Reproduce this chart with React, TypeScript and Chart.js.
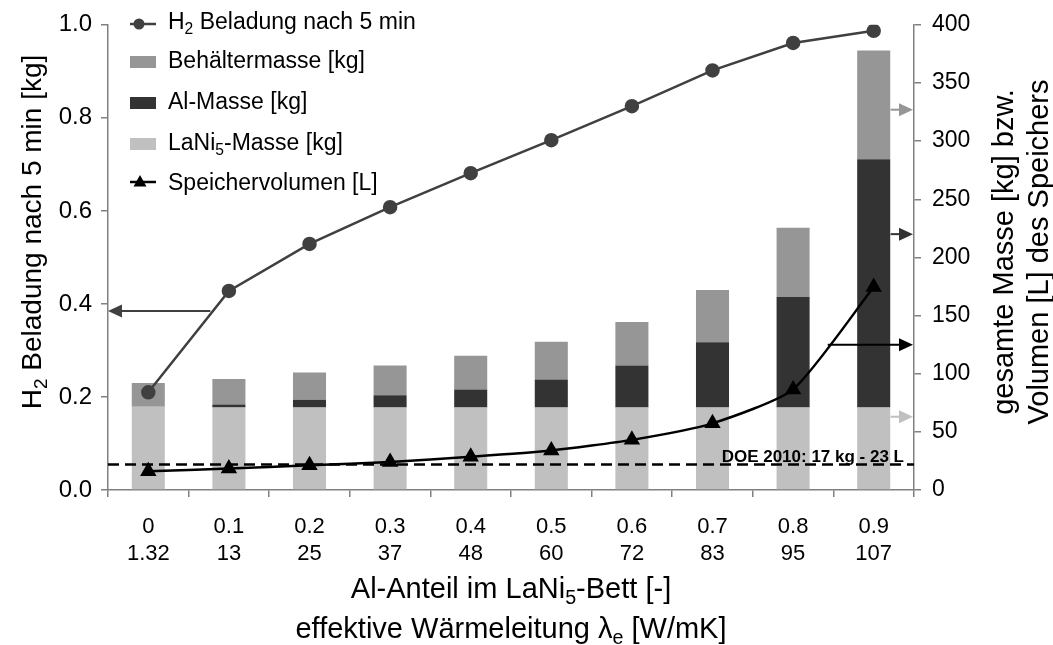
import React, { useEffect, useRef } from 'react';
import { Chart, registerables } from 'chart.js';

Chart.register(...registerables);

const FAMILY = '"Liberation Sans", Arial, Helvetica, sans-serif';

// ---- data ----
const alFraction = ['0', '0.1', '0.2', '0.3', '0.4', '0.5', '0.6', '0.7', '0.8', '0.9'];
const lambdaE = ['1.32', '13', '25', '37', '48', '60', '72', '83', '95', '107'];
const h2Loading = [0.21, 0.428, 0.529, 0.608, 0.681, 0.752, 0.825, 0.902, 0.961, 0.987];
const lani5Mass = [71.5, 71, 71, 71, 71, 71, 71, 71, 71, 71];
const alMass = [0, 2.5, 6.5, 10.5, 15.5, 24, 36, 56, 95, 213.5];
const vesselMass = [20.5, 22, 23.5, 25.5, 29, 32.5, 37.5, 45, 59.5, 93.5];
const storageVolume = [16.2, 18.4, 21.3, 24.1, 28.6, 34, 43.1, 57.3, 86.5, 174.5];
const leftTickStep = 0.2;
const rightTickStep = 50;
const DOE_VALUE = 22;
const DOE_LABEL = 'DOE 2010: 17 kg - 23 L';

const C_VESSEL = '#969696';
const C_AL = '#333333';
const C_LANI5 = '#c0c0c0';
const C_H2 = '#404040';
const C_VOL = '#000000';
const C_AXIS = '#808080';

// annotation arrows: value on axis, start position (category index), colour
const leftArrow = { value: 0.385, fromIndex: 0.77, color: C_H2 };
const rightArrows = [
  { value: 327, fromIndex: 9.21, color: C_VESSEL },
  { value: 220, fromIndex: 9.21, color: C_AL },
  { value: 125, fromIndex: 8.43, color: C_VOL },
  { value: 63, fromIndex: 9.21, color: C_LANI5 },
];

type Part = { t: string; sub?: boolean };

function drawRich(ctx: CanvasRenderingContext2D, parts: Part[], x: number, y: number, size: number, align: 'left' | 'center', weight = '') {
  const sub = size * 0.68;
  const fontOf = (s: number) => `${weight} ${s}px ${FAMILY}`;
  const widths = parts.map((p) => {
    ctx.font = fontOf(p.sub ? sub : size);
    return ctx.measureText(p.t).width;
  });
  const total = widths.reduce((a, b) => a + b, 0);
  let cx = align === 'center' ? x - total / 2 : x;
  ctx.textAlign = 'left';
  ctx.textBaseline = 'alphabetic';
  parts.forEach((p, i) => {
    ctx.font = fontOf(p.sub ? sub : size);
    ctx.fillText(p.t, cx, p.sub ? y + size * 0.2 : y);
    cx += widths[i];
  });
}

function arrow(ctx: CanvasRenderingContext2D, x1: number, y: number, x2: number, color: string) {
  const dir = x2 > x1 ? 1 : -1;
  const head = 14;
  const half = 6.5;
  ctx.save();
  ctx.strokeStyle = color;
  ctx.fillStyle = color;
  ctx.lineWidth = 2;
  ctx.beginPath();
  ctx.moveTo(x1, y);
  ctx.lineTo(x2 - dir * head, y);
  ctx.stroke();
  ctx.beginPath();
  ctx.moveTo(x2, y);
  ctx.lineTo(x2 - dir * head, y - half);
  ctx.lineTo(x2 - dir * head, y + half);
  ctx.closePath();
  ctx.fill();
  ctx.restore();
}

const legendRows: { kind: 'h2' | 'box' | 'vol'; color: string; parts: Part[] }[] = [
  { kind: 'h2', color: C_H2, parts: [{ t: 'H' }, { t: '2', sub: true }, { t: ' Beladung nach 5 min' }] },
  { kind: 'box', color: C_VESSEL, parts: [{ t: 'Behältermasse [kg]' }] },
  { kind: 'box', color: C_AL, parts: [{ t: 'Al-Masse [kg]' }] },
  { kind: 'box', color: C_LANI5, parts: [{ t: 'LaNi' }, { t: '5', sub: true }, { t: '-Masse [kg]' }] },
  { kind: 'vol', color: C_VOL, parts: [{ t: 'Speichervolumen [L]' }] },
];

const overlayPlugin = {
  id: 'overlay',
  afterDatasetDraw(chart: any, args: any) {
    if (args.index !== 0) return;
    const { ctx, chartArea } = chart;
    const yy = chart.scales.y2.getPixelForValue(DOE_VALUE);
    ctx.save();
    ctx.strokeStyle = '#000';
    ctx.lineWidth = 2.5;
    ctx.setLineDash([11, 6]);
    ctx.beginPath();
    ctx.moveTo(chartArea.left, yy);
    ctx.lineTo(chartArea.right, yy);
    ctx.stroke();
    ctx.setLineDash([]);
    ctx.fillStyle = '#000';
    ctx.font = `bold 17px ${FAMILY}`;
    ctx.textAlign = 'right';
    ctx.textBaseline = 'alphabetic';
    ctx.fillText(DOE_LABEL, chartArea.right - 10, yy - 2);
    ctx.restore();
  },
  afterDatasetsDraw(chart: any) {
    const { ctx, chartArea, scales } = chart;
    arrow(ctx, scales.x.getPixelForValue(leftArrow.fromIndex), scales.y.getPixelForValue(leftArrow.value), chartArea.left, leftArrow.color);
    rightArrows.forEach((a) => {
      arrow(ctx, scales.x.getPixelForValue(a.fromIndex), scales.y2.getPixelForValue(a.value), chartArea.right - 1, a.color);
    });
  },
  afterDraw(chart: any) {
    const { ctx } = chart;
    ctx.save();
    ctx.fillStyle = '#000';
    // legend
    const lx = 130;
    const rowY = [21, 60, 101, 142, 182];
    legendRows.forEach((r, i) => {
      const cy = rowY[i];
      if (r.kind === 'box') {
        ctx.fillStyle = r.color;
        ctx.fillRect(lx, cy - 4, 26, 12);
      } else {
        ctx.strokeStyle = r.color;
        ctx.fillStyle = r.color;
        ctx.lineWidth = 2.5;
        const ly = r.kind === 'h2' ? cy + 3 : cy;
        ctx.beginPath();
        ctx.moveTo(lx, ly);
        ctx.lineTo(lx + 26, ly);
        ctx.stroke();
        ctx.beginPath();
        if (r.kind === 'h2') {
          ctx.arc(lx + 9, ly, 5.5, 0, Math.PI * 2);
        } else {
          ctx.moveTo(lx + 10, ly - 7);
          ctx.lineTo(lx + 16.5, ly + 4.5);
          ctx.lineTo(lx + 3.5, ly + 4.5);
          ctx.closePath();
        }
        ctx.fill();
      }
      ctx.fillStyle = '#000';
      drawRich(ctx, r.parts, 168, cy + 8, 23, 'left');
    });

    // left axis title
    ctx.save();
    ctx.translate(31, 232);
    ctx.rotate(-Math.PI / 2);
    drawRich(ctx, [{ t: 'H' }, { t: '2', sub: true }, { t: ' Beladung nach 5 min [kg]' }], 0, 10, 28, 'center');
    ctx.restore();

    // right axis title (two lines)
    ctx.save();
    ctx.translate(1002, 252);
    ctx.rotate(-Math.PI / 2);
    drawRich(ctx, [{ t: 'gesamte Masse [kg] bzw.' }], 0, 10.5, 29, 'center');
    ctx.restore();
    ctx.save();
    ctx.translate(1037, 252);
    ctx.rotate(-Math.PI / 2);
    drawRich(ctx, [{ t: 'Volumen [L] des Speichers' }], 0, 10.5, 29, 'center');
    ctx.restore();

    // x axis titles
    const cx = (chart.chartArea.left + chart.chartArea.right) / 2;
    drawRich(ctx, [{ t: 'Al-Anteil im LaNi' }, { t: '5', sub: true }, { t: '-Bett [-]' }], cx, 598, 29, 'center');
    drawRich(ctx, [{ t: 'effektive Wärmeleitung λ' }, { t: 'e', sub: true }, { t: ' [W/mK]' }], cx, 638, 29, 'center');
    ctx.restore();
  },
};

export default function App() {
  const ref = useRef<HTMLCanvasElement | null>(null);

  useEffect(() => {
    document.body.style.margin = '0';
    const canvas = ref.current;
    if (!canvas) return;
    Chart.defaults.font.family = FAMILY;
    const labels = alFraction.map((a, i) => [a, lambdaE[i]]);
    const chart = new Chart(canvas, {
      type: 'bar',
      data: {
        labels,
        datasets: [
          { type: 'bar', label: 'LaNi5-Masse [kg]', data: lani5Mass, backgroundColor: C_LANI5, yAxisID: 'y2', stack: 'mass', order: 1, barPercentage: 0.41, categoryPercentage: 1 } as any,
          { type: 'bar', label: 'Al-Masse [kg]', data: alMass, backgroundColor: C_AL, yAxisID: 'y2', stack: 'mass', order: 1, barPercentage: 0.41, categoryPercentage: 1 } as any,
          { type: 'bar', label: 'Behältermasse [kg]', data: vesselMass, backgroundColor: C_VESSEL, yAxisID: 'y2', stack: 'mass', order: 1, barPercentage: 0.41, categoryPercentage: 1 } as any,
          { type: 'line', label: 'Speichervolumen [L]', data: storageVolume, borderColor: C_VOL, backgroundColor: C_VOL, borderWidth: 2.5, tension: 0.2, pointStyle: 'triangle', pointRadius: 7, yAxisID: 'y2', stack: 'vol', order: 0 } as any,
          { type: 'line', label: 'H2 Beladung nach 5 min', data: h2Loading, borderColor: C_H2, backgroundColor: C_H2, borderWidth: 2.5, tension: 0, pointStyle: 'circle', pointRadius: 6, yAxisID: 'y', order: 0 } as any,
        ],
      },
      options: {
        responsive: false,
        maintainAspectRatio: false,
        animation: false,
        layout: { padding: { top: 20, left: 0, right: 0, bottom: 0 } },
        plugins: { legend: { display: false }, tooltip: { enabled: false } },
        scales: {
          x: {
            stacked: true,
            offset: true,
            grid: { display: true, drawOnChartArea: false, drawTicks: true, tickLength: 7, color: C_AXIS, lineWidth: 1.5, offset: true },
            border: { display: true, color: C_AXIS, width: 1.5 },
            ticks: { color: '#000', font: { size: 22, lineHeight: 27 / 22 }, padding: 16, maxRotation: 0, autoSkip: false },
            afterFit: (s: any) => { s.height = 155; },
          },
          y: {
            position: 'left',
            min: 0,
            max: 1,
            grid: { display: true, drawOnChartArea: false, drawTicks: true, tickLength: 7, color: C_AXIS, lineWidth: 1.5 },
            border: { display: true, color: C_AXIS, width: 1.5 },
            ticks: { stepSize: leftTickStep, color: '#000', font: { size: 24 }, padding: 9, callback: (v: any) => Number(v).toFixed(1) },
            afterFit: (s: any) => { s.width = 108; },
          },
          y2: {
            position: 'right',
            stacked: true,
            min: 0,
            max: 400,
            grid: { display: true, drawOnChartArea: false, drawTicks: true, tickLength: 7, color: C_AXIS, lineWidth: 1.5 },
            border: { display: true, color: C_AXIS, width: 1.5 },
            ticks: { stepSize: rightTickStep, color: '#000', font: { size: 23 }, padding: 11 },
            afterFit: (s: any) => { s.width = 139; },
          },
        },
      },
      plugins: [overlayPlugin],
    } as any);
    return () => chart.destroy();
  }, []);

  return (
    <div style={{ position: 'fixed', left: 0, top: 0, width: 1053, height: 645, background: '#fff' }}>
      <canvas ref={ref} width={1053} height={645} style={{ width: 1053, height: 645, display: 'block' }} />
    </div>
  );
}
